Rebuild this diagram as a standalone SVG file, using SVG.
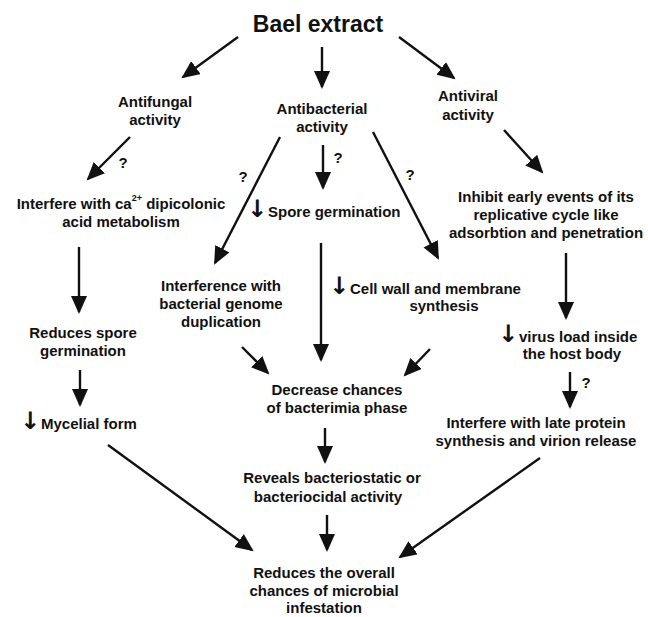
<svg xmlns="http://www.w3.org/2000/svg" width="648" height="617" viewBox="0 0 648 617">
<style>
text{font-family:"Liberation Sans",Arial,sans-serif;font-weight:bold;font-size:15px;fill:#111;}
.c{text-anchor:middle;}
.t{font-size:23px;}
.q{font-size:15px;}
.sup{font-size:9px;}
.ar{font-size:24px;font-family:"DejaVu Sans",sans-serif;}
.e line{stroke:#111;stroke-width:2.4;marker-end:url(#ah);}
</style>
<defs>
<marker id="ah" markerUnits="userSpaceOnUse" markerWidth="20" markerHeight="18" refX="16" refY="8" orient="auto">
<path d="M0,0 L18,8 L0,16 z" fill="#111"/>
</marker>
</defs>
<rect width="648" height="617" fill="#fff"/>

<g id="n-bael"><text class="c t" x="318" y="32">Bael extract</text></g>
<g id="n-antifungal"><text class="c" x="155" y="107">Antifungal</text><text class="c" x="155" y="125">activity</text></g>
<g id="n-antibacterial"><text class="c" x="322" y="114">Antibacterial</text><text class="c" x="322" y="132">activity</text></g>
<g id="n-antiviral"><text class="c" x="468" y="101">Antiviral</text><text class="c" x="468" y="120">activity</text></g>

<g id="n-interfere-ca"><text class="c" x="121" y="209">Interfere with ca<tspan class="sup" dy="-8">2+</tspan><tspan dy="8"> dipicolonic</tspan></text><text class="c" x="121" y="227">acid metabolism</text></g>
<g id="n-spore"><text x="247" y="217"><tspan class="ar">↓</tspan><tspan x="268">Spore germination</tspan></text></g>
<g id="n-inhibit"><text class="c" x="546" y="202">Inhibit early events of its</text><text class="c" x="546" y="220">replicative cycle like</text><text class="c" x="546" y="238">adsorbtion and penetration</text></g>

<g id="n-genome"><text class="c" x="221" y="291">Interference with</text><text class="c" x="221" y="309">bacterial genome</text><text class="c" x="221" y="327">duplication</text></g>
<g id="n-cellwall"><text x="329" y="294"><tspan class="ar">↓</tspan><tspan x="350">Cell wall and membrane</tspan></text><text class="c" x="444" y="311">synthesis</text></g>
<g id="n-reduces-spore"><text class="c" x="83" y="338">Reduces spore</text><text class="c" x="83" y="356">germination</text></g>
<g id="n-virus"><text x="498" y="342"><tspan class="ar">↓</tspan><tspan x="519">virus load inside</tspan></text><text class="c" x="572" y="359">the host body</text></g>

<g id="n-decrease"><text class="c" x="337" y="395">Decrease chances</text><text class="c" x="337" y="413">of bacterimia phase</text></g>
<g id="n-mycelial"><text x="20" y="429"><tspan class="ar">↓</tspan><tspan x="41">Mycelial form</tspan></text></g>
<g id="n-late"><text class="c" x="536" y="428">Interfere with late protein</text><text class="c" x="536" y="446">synthesis and virion release</text></g>

<g id="n-reveals"><text class="c" x="332" y="483">Reveals bacteriostatic or</text><text class="c" x="328" y="502">bacteriocidal activity</text></g>
<g id="n-reduces-overall"><text class="c" x="324" y="578">Reduces the overall</text><text class="c" x="324" y="596">chances of microbial</text><text class="c" x="324" y="613">infestation</text></g>

<g id="connectors" class="e">
<line x1="238" y1="37" x2="183" y2="77"/>
<line x1="322" y1="47" x2="322" y2="87"/>
<line x1="399" y1="37" x2="454" y2="78"/>
<line x1="130" y1="137" x2="88" y2="179"/>
<line x1="280" y1="137" x2="215" y2="263"/>
<line x1="323" y1="145" x2="323" y2="188"/>
<line x1="373" y1="132" x2="438" y2="258"/>
<line x1="504" y1="130" x2="542" y2="172"/>
<line x1="79" y1="247" x2="79" y2="312"/>
<line x1="80" y1="370" x2="80" y2="405"/>
<line x1="321" y1="243" x2="321" y2="360"/>
<line x1="242" y1="347" x2="268" y2="373"/>
<line x1="430" y1="349" x2="405" y2="375"/>
<line x1="566" y1="253" x2="566" y2="318"/>
<line x1="570" y1="372" x2="570" y2="407"/>
<line x1="325" y1="428" x2="325" y2="462"/>
<line x1="327" y1="515" x2="327" y2="550"/>
<line x1="108" y1="445" x2="252" y2="550"/>
<line x1="540" y1="458" x2="400" y2="557"/>
<text class="c q" x="123" y="168">?</text>
<text class="c q" x="243" y="182">?</text>
<text class="c q" x="338" y="163">?</text>
<text class="c q" x="410" y="180">?</text>
<text class="c q" x="586" y="388">?</text>
</g>
</svg>
